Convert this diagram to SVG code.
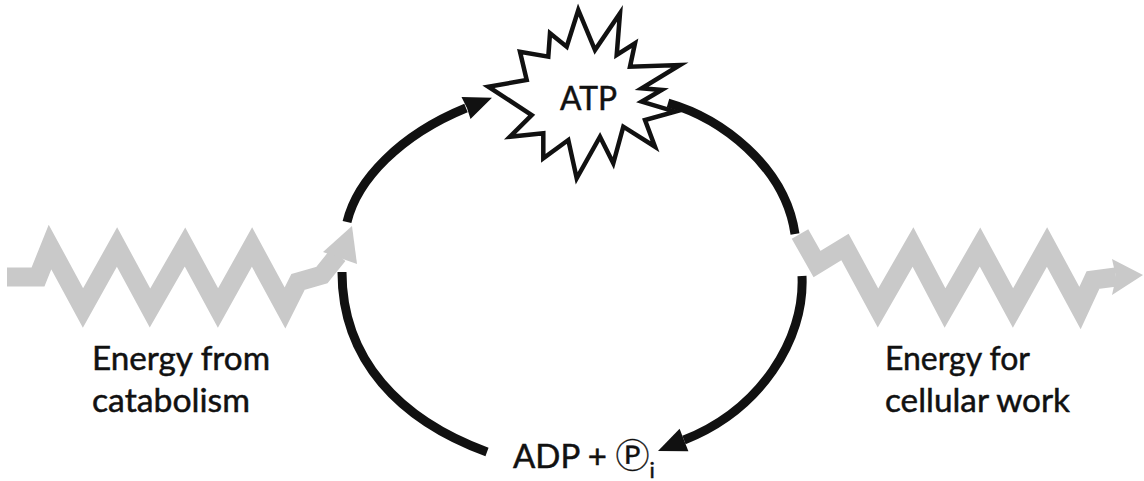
<svg xmlns="http://www.w3.org/2000/svg" width="1144" height="481" viewBox="0 0 1144 481">
<style>
.arc{fill:none;stroke:#111;stroke-width:9;stroke-linecap:butt}
.head{fill:#111}
.zig{fill:none;stroke:#c9c9c9;stroke-width:19;stroke-linejoin:miter;stroke-miterlimit:10;stroke-linecap:butt}
.ghead{fill:#c9c9c9}
.lbl{font-family:Lato,"Liberation Sans",sans-serif;font-size:33px;fill:#111;stroke:#111;stroke-width:0.5}
</style>
<rect width="1144" height="481" fill="#fff"/>
<g id="connectors">
<path class="arc" d="M347,222 C357,180 400,135 466,108"/>
<polygon class="head" points="492,97.8 470.5,119.1 467,108 461.5,96.9"/>
<path class="arc" d="M668,103 C720,118 785,165 795,234"/>
<path class="arc" d="M802,276 C805,340 760,410 684,440"/>
<polygon class="head" points="658,451 688.4,451.2 684,440 679.6,428.8"/>
<path class="arc" d="M342,272 C342,360 400,420 487,452"/>
</g>
<g id="energy-in">
<polyline class="zig" points="7,277 38,277 50,247 83,308 117,247 150,308 185,247 218,308 252,247 285,308 298,282 322,275 338,255"/>
<polygon class="ghead" points="352,226 357,264 340,258 323,252"/>
<text class="lbl" x="92" y="370" textLength="178" lengthAdjust="spacingAndGlyphs">Energy from</text>
<text class="lbl" x="92" y="412" textLength="158" lengthAdjust="spacingAndGlyphs">catabolism</text>
</g>
<g id="energy-out">
<polyline class="zig" points="800,234 817,264 845,247 878,308 913,247 945,308 980,247 1013,308 1047,247 1080,308 1093,280 1116,277"/>
<polygon class="ghead" points="1143,275 1112,295 1116,277 1112,259"/>
<text class="lbl" x="885" y="370" textLength="145" lengthAdjust="spacingAndGlyphs">Energy for</text>
<text class="lbl" x="885" y="412" textLength="185" lengthAdjust="spacingAndGlyphs">cellular work</text>
</g>
<g id="atp">
<polygon points="578.3,10 595,50 620,13.3 616.7,55 635,43.3 630,66.7 680,65 641.7,88.3 661.7,90 641.7,101.7 675,111.7 645,120 655,146.7 623.3,126.7 613.3,163.3 600,136.7 576.7,178.3 568.3,140 543.3,158.3 543.3,133.3 510,136.7 531.7,115 488.3,86.7 526.7,80 520,51.7 548.3,56.7 550,33.3 566.7,46.7" fill="#fff" stroke="#111" stroke-width="4.5" stroke-linejoin="miter"/>
<text class="lbl" x="560" y="110" font-size="34px" textLength="57" lengthAdjust="spacingAndGlyphs">ATP</text>
</g>
<g id="adp">
<text class="lbl" x="513" y="468">ADP + <tspan font-family="'DejaVu Sans','Noto Sans CJK SC',sans-serif" font-size="34px" stroke-width="0.3">Ⓟ</tspan><tspan font-size="22px" dy="10">i</tspan></text>
</g>
</svg>
